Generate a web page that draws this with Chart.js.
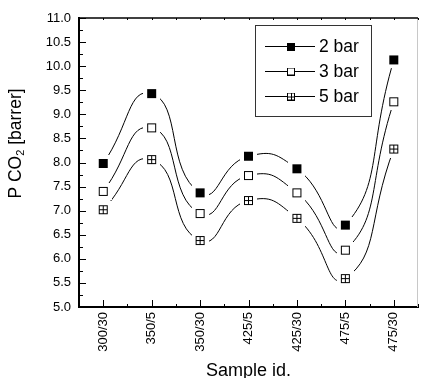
<!DOCTYPE html>
<html>
<head>
<meta charset="utf-8">
<script src="https://cdn.jsdelivr.net/npm/chart.js@4.4.1/dist/chart.umd.min.js"></script>
<style>
  html, body { margin: 0; padding: 0; background: #fff; }
  canvas { display: block; }
</style>
</head>
<body>
<canvas id="chart" width="424" height="378"></canvas>
<script>
const categories = ["300/30", "350/5", "350/30", "425/5", "425/30", "475/5", "475/30"];
const seriesNames = ["2 bar", "3 bar", "5 bar"];
const bar2 = [7.98, 9.43, 7.37, 8.13, 7.87, 6.70, 10.13];
const bar3 = [7.40, 8.72, 6.94, 7.73, 7.37, 6.18, 9.26];
const bar5 = [7.02, 8.06, 6.38, 7.21, 6.84, 5.59, 8.28];
const yMin = 5, yMax = 11, yStep = 0.5;

const FONT = "'Liberation Sans', Arial, sans-serif";

// marker images, with a white margin so the curve stops short of the symbol
function makeMarker(kind, size, halo) {
    const s = size + 2 * halo;
    const c = document.createElement("canvas");
    c.width = s; c.height = s;
    const g = c.getContext("2d");
    if (halo) { g.fillStyle = "#fff"; g.fillRect(0, 0, s, s); }
    const o = halo;
    if (kind == "filled") {
        g.fillStyle = "#000";
        g.fillRect(o, o, size, size);
    } else {
        g.fillStyle = "#fff";
        g.fillRect(o, o, size, size);
        g.strokeStyle = "#000";
        g.lineWidth = 1;
        g.strokeRect(o + 0.5, o + 0.5, size - 1, size - 1);
        if (kind == "cross") {
            const m = o + Math.floor(size / 2) + 0.5;
            g.beginPath();
            g.moveTo(o, m); g.lineTo(o + size, m);
            g.moveTo(m, o); g.lineTo(m, o + size);
            g.stroke();
        }
    }
    return c;
}
const kinds = ["filled", "open", "cross"];
const chartMarkers = kinds.map(k => makeMarker(k, 9, 4));
const legendMarkers = kinds.map(k => makeMarker(k, 8, 0));

function line(ctx, x1, y1, x2, y2) {
    ctx.beginPath(); ctx.moveTo(x1, y1); ctx.lineTo(x2, y2); ctx.stroke();
}

const frame = {
    id: "frame",
    beforeDatasetsDraw(chart) {
        const {ctx, chartArea: a, scales: {x, y}} = chart;
        ctx.save();
        ctx.strokeStyle = "#c8c8c8"; ctx.lineWidth = 1;
        line(ctx, a.right - 0.5, a.top, a.right - 0.5, a.bottom);
        ctx.strokeStyle = "#000"; ctx.lineWidth = 1.5;
        line(ctx, a.left, a.top, a.right, a.top);
        ctx.lineWidth = 1;
        // y ticks pointing inward
        for (let v = yMin; v <= yMax + 1e-9; v += yStep / 2) {
            const py = Math.round(y.getPixelForValue(v)) + 0.5;
            const major = Math.abs(v / yStep - Math.round(v / yStep)) < 1e-6;
            line(ctx, a.left, py, a.left + (major ? 7 : 4), py);
        }
        // x ticks: major at categories, minor between
        for (let i = 0; i < categories.length; i++) {
            const px = Math.round(x.getPixelForValue(i)) + 0.5;
            line(ctx, px, a.bottom, px, a.bottom - 7);
            line(ctx, px, a.top, px, a.top + 2);
        }
        for (let i = 0; i <= categories.length; i++) {
            const px = Math.round(x.getPixelForValue(i - 0.5)) + 0.5;
            line(ctx, px, a.bottom + 1, px, a.bottom - 3);
            line(ctx, px, a.top, px, a.top + 2);
        }
        ctx.restore();
    },
    afterDraw(chart) {
        const ctx = chart.ctx;
        ctx.save();
        // legend box
        ctx.strokeStyle = "#333"; ctx.lineWidth = 1;
        ctx.strokeRect(255.5, 25.5, 116, 91);
        ctx.font = "17.5px " + FONT;
        ctx.fillStyle = "#000";
        ctx.textBaseline = "middle";
        const rows = [46, 71, 96];
        chart.data.datasets.forEach((ds, i) => {
            const ry = rows[i];
            ctx.strokeStyle = "#000";
            line(ctx, 265, ry + 0.5, 315, ry + 0.5);
            const m = legendMarkers[i];
            ctx.drawImage(m, 291 - m.width / 2, ry + 0.5 - m.height / 2);
            ctx.fillText(ds.label, 319, ry + 1);
        });
        // y axis title with subscript
        ctx.translate(15, 143.5);
        ctx.rotate(-Math.PI / 2);
        ctx.textBaseline = "alphabetic";
        const big = "17.5px " + FONT, small = "11px " + FONT;
        const parts = [["P CO", big, 0], ["2", small, 3], [" [barrer]", big, 0]];
        let total = 0;
        parts.forEach(p => { ctx.font = p[1]; total += ctx.measureText(p[0]).width; });
        let tx = -total / 2;
        parts.forEach(p => {
            ctx.font = p[1];
            ctx.fillText(p[0], tx, 6 + p[2]);
            tx += ctx.measureText(p[0]).width;
        });
        ctx.restore();
    }
};

const seriesValues = [bar2, bar3, bar5];
const datasets = seriesNames.map((name, i) => ({
    label: name,
    data: seriesValues[i],
    borderColor: "#000",
    borderWidth: 1,
    backgroundColor: "#000",
    fill: false,
    tension: 0.55,
    pointStyle: chartMarkers[i],
    pointRadius: 5,
    pointHoverRadius: 5
}));

new Chart(document.getElementById("chart"), {
    type: "line",
    data: { labels: categories, datasets: datasets },
    options: {
        responsive: false,
        animation: false,
        devicePixelRatio: 1,
        layout: { padding: { top: 18, right: 1, left: 0, bottom: 0 } },
        plugins: { legend: { display: false }, tooltip: { enabled: false } },
        scales: {
            x: {
                type: "category",
                offset: true,
                grid: { display: false, drawTicks: false },
                border: { display: true, color: "#000", width: 2 },
                ticks: {
                    minRotation: 90, maxRotation: 90, autoSkip: false,
                    padding: 5, color: "#000",
                    font: { family: FONT, size: 13 }
                },
                title: {
                    display: true, text: "Sample id.", color: "#000",
                    font: { family: FONT, size: 18, lineHeight: 1 },
                    padding: { top: 0, bottom: -2 }
                },
                afterFit: s => { s.height = 71; }
            },
            y: {
                min: yMin, max: yMax,
                grid: { display: false, drawTicks: false },
                border: { display: true, color: "#000", width: 2 },
                ticks: {
                    stepSize: yStep, padding: 8, color: "#000",
                    font: { family: FONT, size: 13 },
                    callback: v => v.toFixed(1)
                },
                afterFit: s => { s.width = 79; }
            }
        }
    },
    plugins: [frame]
});
</script>
</body>
</html>
